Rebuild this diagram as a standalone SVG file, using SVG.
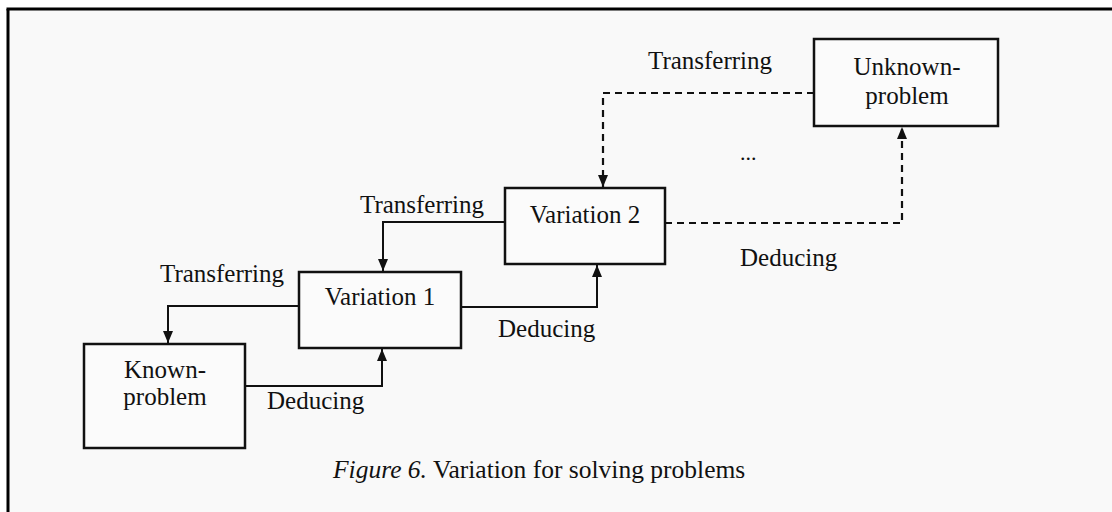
<svg xmlns="http://www.w3.org/2000/svg" width="1112" height="512" viewBox="0 0 1112 512">
<defs>
<marker id="arr" viewBox="0 0 12 10" refX="12" refY="5" markerWidth="12" markerHeight="10" markerUnits="userSpaceOnUse" orient="auto">
<path d="M0,0 L12,5 L0,10 Z" fill="#111"/>
</marker>
<style>
.box{fill:#fbfbfb;stroke:#111;stroke-width:2.5}
.t{font-family:"Liberation Serif","Times New Roman",serif;font-size:25px;fill:#111}
.c{text-anchor:middle}
.ln{fill:none;stroke:#111;stroke-width:2}
.dl{fill:none;stroke:#111;stroke-width:2.2;stroke-dasharray:7,5}
</style>
</defs>
<rect x="0" y="0" width="1112" height="512" fill="#ffffff"/>
<rect x="8" y="9" width="1104" height="503" fill="#f9f9f9"/>
<line x1="6.5" y1="9" x2="1112" y2="9" stroke="#000" stroke-width="3"/>
<line x1="8" y1="9" x2="8" y2="512" stroke="#000" stroke-width="3"/>

<g id="connectors">
<path class="ln" d="M299,306 H168 V343" marker-end="url(#arr)"/>
<path class="ln" d="M245,386 H382 V349" marker-end="url(#arr)"/>
<path class="ln" d="M505,222 H383 V271" marker-end="url(#arr)"/>
<path class="ln" d="M461,307 H597 V265" marker-end="url(#arr)"/>
<path class="dl" d="M814,93 H603 V187" marker-end="url(#arr)"/>
<path class="dl" d="M665,223 H902 V127" marker-end="url(#arr)"/>
<text class="t" x="160" y="282">Transferring</text>
<text class="t" x="267" y="409">Deducing</text>
<text class="t" x="360" y="213">Transferring</text>
<text class="t" x="498" y="337">Deducing</text>
<text class="t" x="648" y="69">Transferring</text>
<text class="t" x="740" y="266">Deducing</text>
<text class="t" x="740" y="160" style="font-size:22px">...</text>
</g>

<g id="known">
<rect class="box" x="84" y="344" width="161" height="104"/>
<text class="t c" x="165" y="378">Known-</text>
<text class="t c" x="165" y="405">problem</text>
</g>
<g id="variation1">
<rect class="box" x="299" y="272" width="162" height="76"/>
<text class="t c" x="380" y="305">Variation 1</text>
</g>
<g id="variation2">
<rect class="box" x="505" y="188" width="160" height="76"/>
<text class="t c" x="585" y="223">Variation 2</text>
</g>
<g id="unknown">
<rect class="box" x="814" y="39" width="184" height="87"/>
<text class="t c" x="907" y="75">Unknown-</text>
<text class="t c" x="907" y="104">problem</text>
</g>
<text class="t" x="333" y="478" style="font-size:25.5px"><tspan font-style="italic">Figure 6.</tspan> Variation for solving problems</text>
</svg>
